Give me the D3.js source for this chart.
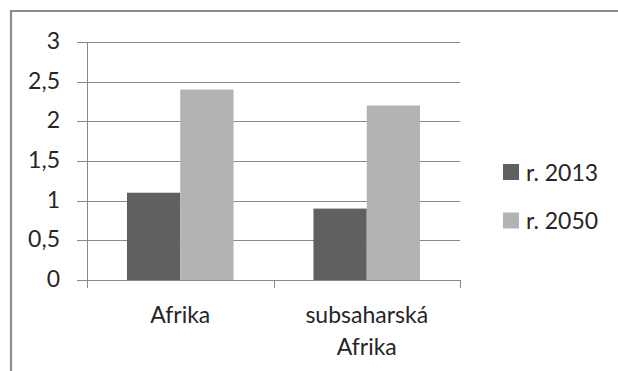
<!DOCTYPE html>
<html><head><meta charset="utf-8">
<script src="https://cdn.jsdelivr.net/npm/d3@7"></script>
<style>
html,body{margin:0;padding:0;background:#fff;}
svg{display:block;}
text{font-family:Lato,"Open Sans",sans-serif;fill:#262626;}
</style></head>
<body>
<svg id="c" width="618" height="371"></svg>
<script>
const categories = [["Afrika"], ["subsaharská", "Afrika"]];
const categoryKeys = ["Afrika", "subsaharská Afrika"];
const seriesNames = ["r. 2013", "r. 2050"];
const values2013 = [1.1, 0.9];
const values2050 = [2.4, 2.2];
const yTicks = [0, 0.5, 1, 1.5, 2, 2.5, 3];
const yTickLabels = ["0", "0,5", "1", "1,5", "2", "2,5", "3"];
const seriesColors = ["#606060", "#b3b3b3"];

const svg = d3.select("#c");
const fs = 23;
const gridColor = "#888888";

// outer frame (only top and left visible in the crop)
svg.append("path").attr("d", "M11,371V11H618").attr("fill", "none")
  .attr("stroke", "#8c8c8c").attr("stroke-width", 2.2);

const x0 = d3.scaleBand().domain(categoryKeys).range([87, 460]).padding(0);
const x1 = d3.scaleBand().domain(seriesNames).range([0, x0.bandwidth()]).paddingInner(0).paddingOuter(0.75);
const y = d3.scaleLinear().domain([0, 3]).range([280, 42]);

// gridlines + y ticks
const gy = svg.append("g");
yTicks.forEach((t, i) => {
  const yy = Math.round(y(t)) + 0.5;
  gy.append("line").attr("x1", 77).attr("x2", 460).attr("y1", yy).attr("y2", yy)
    .attr("stroke", gridColor).attr("stroke-width", 1);
  gy.append("text").attr("x", 60).attr("y", y(t) + 7).attr("text-anchor", "end")
    .attr("font-size", fs).text(yTickLabels[i]);
});
// y axis line
svg.append("line").attr("x1", 87.5).attr("x2", 87.5).attr("y1", y(3)).attr("y2", 288)
  .attr("stroke", gridColor);
// x ticks
const bounds = [x0(categoryKeys[0]), x0(categoryKeys[1]), x0(categoryKeys[1]) + x0.bandwidth()];
bounds.forEach(b => {
  const bx = Math.round(b) + 0.5;
  svg.append("line").attr("x1", bx).attr("x2", bx).attr("y1", 280).attr("y2", 288).attr("stroke", gridColor);
});

// bars
const data = categoryKeys.map((c, i) => ({c, vals: [values2013[i], values2050[i]]}));
const g = svg.append("g");
data.forEach(d => {
  d.vals.forEach((v, j) => {
    g.append("rect")
      .attr("x", x0(d.c) + x1(seriesNames[j]))
      .attr("width", x1.bandwidth())
      .attr("y", y(v))
      .attr("height", y(0) - y(v))
      .attr("fill", seriesColors[j]);
  });
});
// redraw baseline on top
svg.append("line").attr("x1", 77).attr("x2", 460).attr("y1", Math.round(y(0)) + 0.5).attr("y2", Math.round(y(0)) + 0.5)
  .attr("stroke", gridColor);

// category labels
categories.forEach((lines, i) => {
  const cx = x0(categoryKeys[i]) + x0.bandwidth() / 2;
  const t = svg.append("text").attr("text-anchor", "middle").attr("font-size", fs);
  lines.forEach((ln, k) => {
    t.append("tspan").attr("x", cx).attr("y", 323 + k * 32).text(ln);
  });
});

// legend
seriesNames.forEach((s, j) => {
  const ly = 164 + j * 48.5;
  svg.append("rect").attr("x", 503).attr("y", ly).attr("width", 16).attr("height", 16).attr("fill", seriesColors[j]);
  svg.append("text").attr("x", 526).attr("y", ly + 16.5).attr("font-size", fs).text(s);
});
</script>
</body></html>
